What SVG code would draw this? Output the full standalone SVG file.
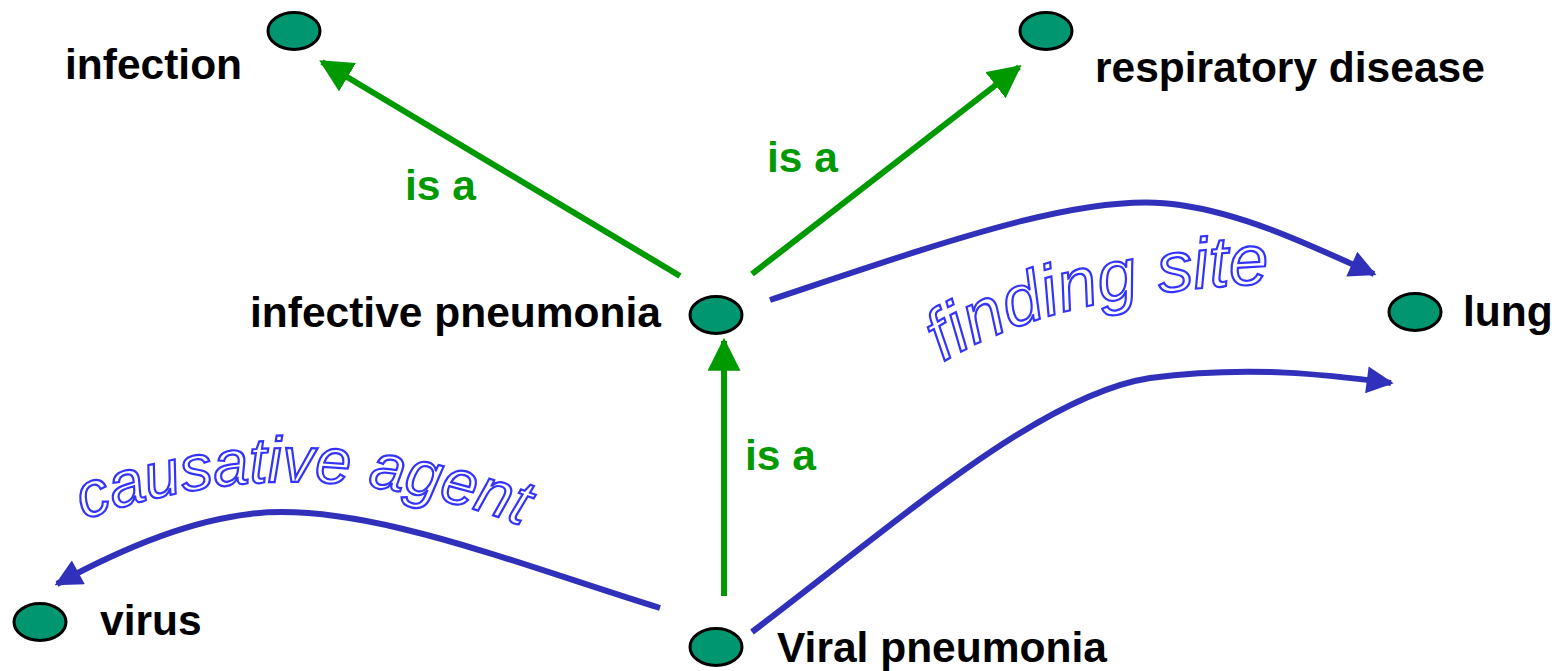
<svg xmlns="http://www.w3.org/2000/svg" width="1560" height="671" viewBox="0 0 1560 671">
<defs>
<style>
.node ellipse{fill:#009670;stroke:#000;stroke-width:3}
.lbl{font-family:"Liberation Sans",Arial,sans-serif;font-weight:bold;font-size:42.5px;fill:#000}
.isa{font-family:"Liberation Sans",Arial,sans-serif;font-weight:bold;font-size:42.5px;fill:#009900}
.g{stroke:#009900;stroke-width:6;fill:none}
.b{stroke:#3030BB;stroke-width:6;fill:none}
.ol{font-family:"Liberation Sans",Arial,sans-serif;font-style:italic;fill:#fff;stroke:#3333FF;stroke-width:2.2}
</style>
<marker id="ag" viewBox="0 0 10 10" refX="9" refY="5" markerWidth="5.5" markerHeight="5.5" markerUnits="strokeWidth" orient="auto"><path d="M0,0 L10,5 L0,10 Z" fill="#009900"/></marker>
<marker id="ab" viewBox="0 0 10 10" refX="9" refY="5" markerWidth="5" markerHeight="4.5" markerUnits="strokeWidth" orient="auto"><path d="M0,0 L10,5 L0,10 Z" fill="#3030BB"/></marker>
<path id="p1" d="M943,362 Q1060,290 1285,283"/>
<path id="p2" d="M84,520 Q300,440 528,528"/>
</defs>
<g id="connectors">
<line class="g" x1="680" y1="276" x2="322" y2="62" marker-end="url(#ag)"/>
<line class="g" x1="752" y1="274" x2="1019" y2="67" marker-end="url(#ag)"/>
<line class="g" x1="724" y1="596" x2="724" y2="341" marker-end="url(#ag)"/>
<path class="b" d="M770,300 C950,240 1090,190 1180,205 C1250,215 1320,250 1374,274" marker-end="url(#ab)"/>
<path class="b" d="M752,632 C900,520 1040,395 1150,378 C1250,365 1330,375 1391,383" marker-end="url(#ab)"/>
<path class="b" d="M660,608 C520,565 360,500 250,514 C180,522 110,555 57,584" marker-end="url(#ab)"/>
<text class="isa" x="405" y="200">is a</text>
<text class="isa" x="767" y="172">is a</text>
<text class="isa" x="745" y="470">is a</text>
<text class="ol" font-size="71"><textPath href="#p1">finding site</textPath></text>
<text class="ol" font-size="64"><textPath href="#p2">causative agent</textPath></text>
</g>
<g id="infection" class="node"><ellipse cx="294" cy="31" rx="26" ry="18.5"/><text class="lbl" x="65" y="79">infection</text></g>
<g id="respiratory-disease" class="node"><ellipse cx="1046" cy="31" rx="26" ry="18.5"/><text class="lbl" x="1095" y="82">respiratory disease</text></g>
<g id="infective-pneumonia" class="node"><ellipse cx="716" cy="315" rx="26" ry="18.5"/><text class="lbl" x="250" y="327">infective pneumonia</text></g>
<g id="lung" class="node"><ellipse cx="1415" cy="312" rx="26" ry="18.5"/><text class="lbl" x="1463" y="326">lung</text></g>
<g id="virus" class="node"><ellipse cx="40" cy="622" rx="26" ry="18.5"/><text class="lbl" x="100" y="635">virus</text></g>
<g id="viral-pneumonia" class="node"><ellipse cx="716" cy="647" rx="26" ry="18.5"/><text class="lbl" x="777" y="662">Viral pneumonia</text></g>
</svg>
